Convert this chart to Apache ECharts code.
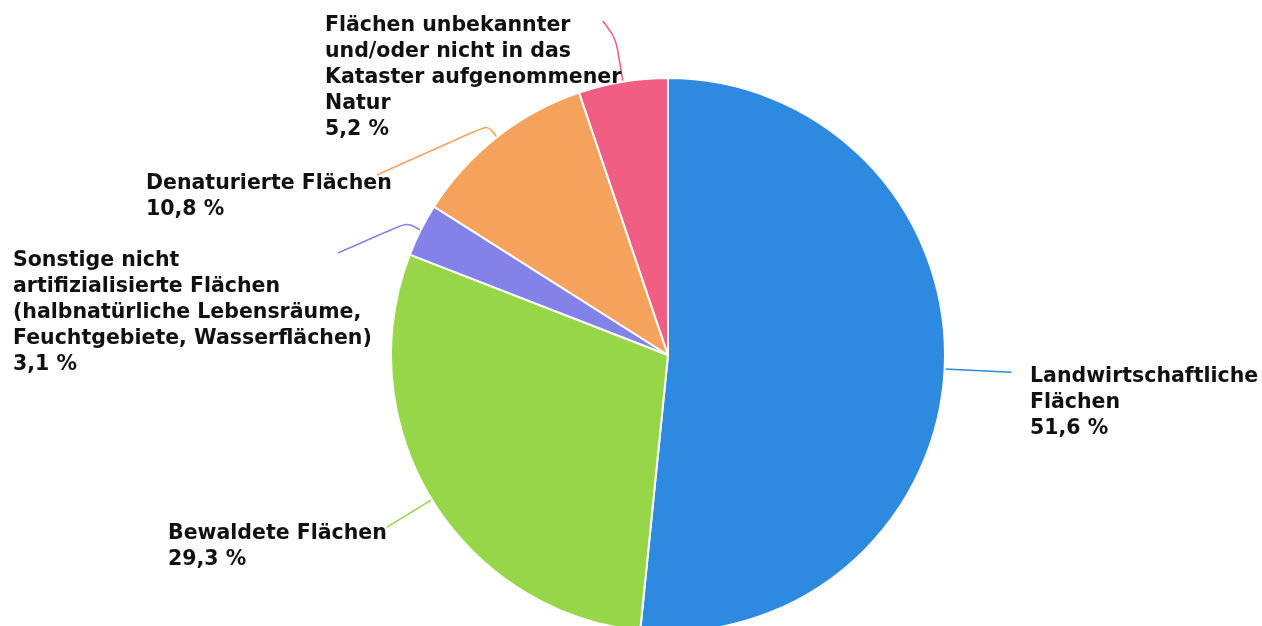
<!DOCTYPE html>
<html>
<head>
<meta charset="utf-8">
<script src="https://cdn.jsdelivr.net/npm/echarts@6/dist/echarts.min.js"></script>
<style>
html,body{margin:0;padding:0;background:#fff;}
#chart{width:1262px;height:626px;}
</style>
</head>
<body>
<div id="chart"></div>
<script>
// Data
const categories = [
  "Landwirtschaftliche Flächen",
  "Bewaldete Flächen",
  "Sonstige nicht artifizialisierte Flächen (halbnatürliche Lebensräume, Feuchtgebiete, Wasserflächen)",
  "Denaturierte Flächen",
  "Flächen unbekannter und/oder nicht in das Kataster aufgenommener Natur"
];
const values = [51.6, 29.3, 3.1, 10.8, 5.2];
const wrappedLabels = [
  "Landwirtschaftliche\nFlächen",
  "Bewaldete Flächen",
  "Sonstige nicht\nartifizialisierte Flächen\n(halbnatürliche Lebensräume,\nFeuchtgebiete, Wasserflächen)",
  "Denaturierte Flächen",
  "Flächen unbekannter\nund/oder nicht in das\nKataster aufgenommener\nNatur"
];
const colors = ["#2e8ae0", "#96d648", "#8282e8", "#f5a35c", "#f05e84"];

// Layout only: label block top-left, label-line radial length, label-line end
const labelPos = [[1030, 364], [168, 521], [13, 248], [146, 171], [325, 13]];
const lineRadial = [67, 53, 16, 15, 43];
const lineEnd = [null, null, [338, 253], [377, 175], [603, 21]];
const CX = 668, CY = 355, R = 277;

const chart = echarts.init(document.getElementById('chart'));
chart.setOption({
  animation: false,
  series: [{
    type: 'pie',
    center: [CX, CY],
    radius: R,
    startAngle: 90,
    clockwise: true,
    data: categories.map((c, i) => ({
      name: c,
      value: values[i],
      itemStyle: { color: colors[i] },
      labelLine: { lineStyle: { color: colors[i] } }
    })),
    itemStyle: { borderColor: '#fff', borderWidth: 2 },
    label: {
      show: true,
      position: 'outside',
      overflow: 'none',
      fontFamily: 'DejaVu Sans',
      fontWeight: 'bold',
      fontSize: 20.5,
      lineHeight: 26,
      color: '#111',
      formatter: p => wrappedLabels[p.dataIndex] + '\n' + String(p.value).replace('.', ',') + ' %'
    },
    labelLine: { show: true, length: 25, length2: 40, smooth: 0.25, lineStyle: { width: 1.5 } },
    labelLayout: function (params) {
      const i = params.dataIndex;
      const p = labelPos[i];
      const a = params.labelLinePoints[0];
      const dx = a[0] - CX, dy = a[1] - CY;
      const d = Math.sqrt(dx * dx + dy * dy);
      const b = [a[0] + dx / d * lineRadial[i], a[1] + dy / d * lineRadial[i]];
      const pts = lineEnd[i] ? [a, b, lineEnd[i]] : [a, b];
      return { x: p[0], y: p[1], align: 'left', verticalAlign: 'top', labelLinePoints: pts };
    }
  }]
});
</script>
</body>
</html>
